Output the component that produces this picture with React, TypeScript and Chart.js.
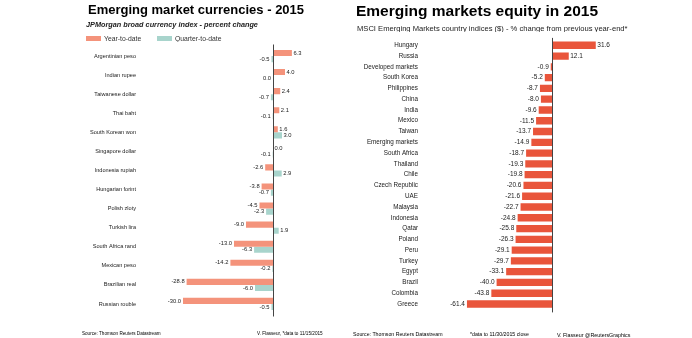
import React, { useEffect, useRef } from "react";
import { Chart, registerables } from "chart.js";

Chart.register(...registerables);

// ---------- Data ----------
const currencyCategories = [
  "Argentinian peso",
  "Indian rupee",
  "Taiwanese dollar",
  "Thai baht",
  "South Korean won",
  "Singapore dollar",
  "Indonesia rupiah",
  "Hungarian forint",
  "Polish zloty",
  "Turkish lira",
  "South Africa rand",
  "Mexican peso",
  "Brazilian real",
  "Russian rouble",
];
const yearToDate = [6.3, 4.0, 2.4, 2.1, 1.6, 0.0, -2.6, -3.8, -4.5, -9.0, -13.0, -14.2, -28.8, -30.0];
const quarterToDate = [-0.5, 0.0, -0.7, -0.1, 3.0, -0.1, 2.9, -0.7, -2.3, 1.9, -6.3, -0.2, -6.0, -0.5];

const equityCategories = [
  "Hungary",
  "Russia",
  "Developed markets",
  "South Korea",
  "Philippines",
  "China",
  "India",
  "Mexico",
  "Taiwan",
  "Emerging markets",
  "South Africa",
  "Thailand",
  "Chile",
  "Czech Republic",
  "UAE",
  "Malaysia",
  "Indonesia",
  "Qatar",
  "Poland",
  "Peru",
  "Turkey",
  "Egypt",
  "Brazil",
  "Colombia",
  "Greece",
];
const equityChange = [
  31.6, 12.1, -0.9, -5.2, -8.7, -8.0, -9.6, -11.5, -13.7, -14.9, -18.7, -19.3, -19.8, -20.6, -21.6,
  -22.7, -24.8, -25.8, -26.3, -29.1, -29.7, -33.1, -40.0, -43.8, -61.4,
];

const FONT = 'Arial, "Liberation Sans", sans-serif';

function makeLabelPlugin(fontSize: number, zeroLeftDatasets: number[]) {
  return {
    id: "valueLabels",
    afterDatasetsDraw(chart: any) {
      const ctx = chart.ctx;
      ctx.save();
      ctx.font = `${fontSize}px ${FONT}`;
      ctx.fillStyle = "#222";
      ctx.textBaseline = "middle";
      chart.data.datasets.forEach((ds: any, di: number) => {
        const meta = chart.getDatasetMeta(di);
        meta.data.forEach((el: any, i: number) => {
          const v = ds.data[i] as number;
          const left = v < 0 || (v === 0 && zeroLeftDatasets.includes(di));
          const { x, y } = el.getProps(["x", "y"], true);
          ctx.textAlign = left ? "right" : "left";
          ctx.fillText(v.toFixed(1), left ? x - 2 : x + 1.5, y);
        });
      });
      const xs = chart.scales.x;
      const zx = Math.round(xs.getPixelForValue(0)) + 0.5;
      ctx.strokeStyle = "#444";
      ctx.lineWidth = 1;
      ctx.beginPath();
      ctx.moveTo(zx, chart.chartArea.top - 2);
      ctx.lineTo(zx, chart.chartArea.bottom + 3);
      ctx.stroke();
      ctx.restore();
    },
  };
}

function T(props: {
  x: number;
  y: number;
  size: number;
  text: string;
  weight?: number;
  italic?: boolean;
  color?: string;
}) {
  const { x, y, size, text, weight = 400, italic = false, color = "#111" } = props;
  const k = 2;
  return (
    <div
      style={{
        position: "absolute",
        left: x,
        top: y - 0.49 * size,
        fontFamily: FONT,
        fontSize: size * k,
        lineHeight: 1,
        fontWeight: weight,
        fontStyle: italic ? "italic" : "normal",
        color,
        whiteSpace: "nowrap",
        transform: `scale(${1 / k})`,
        transformOrigin: "0 0",
      }}
    >
      {text}
    </div>
  );
}

function CurrencyChart() {
  const ref = useRef<HTMLCanvasElement>(null);
  useEffect(() => {
    if (!ref.current) return;
    const chart = new Chart(ref.current, {
      type: "bar",
      data: {
        labels: currencyCategories,
        datasets: [
          {
            label: "Year-to-date",
            data: yearToDate,
            backgroundColor: "#f4937b",
            borderWidth: 0,
            categoryPercentage: 0.64,
            barPercentage: 1,
          },
          {
            label: "Quarter-to-date",
            data: quarterToDate,
            backgroundColor: "#a8d4cc",
            borderWidth: 0,
            categoryPercentage: 0.64,
            barPercentage: 1,
          },
        ],
      },
      options: {
        indexAxis: "y",
        responsive: false,
        animation: false,
        devicePixelRatio: 1,
        layout: { padding: { top: 46.5, bottom: 24.5, left: 0, right: 10 } },
        plugins: { legend: { display: false }, tooltip: { enabled: false }, title: { display: false } },
        scales: {
          x: { display: false, min: -44.3333, max: 19 },
          y: {
            grid: { display: false, drawTicks: false },
            border: { display: false },
            ticks: {
              autoSkip: false,
              padding: 4,
              color: "#222",
              font: { family: FONT, size: 5.6 },
            },
            afterFit: (scale: any) => {
              scale.width = 140;
            },
          },
        },
      } as any,
      plugins: [makeLabelPlugin(5.8, [1])],
    });
    return () => chart.destroy();
  }, []);
  return (
    <canvas
      ref={ref}
      width={340}
      height={338}
      style={{ position: "absolute", left: 0, top: 0, width: 340, height: 338 }}
    />
  );
}

function EquityChart() {
  const ref = useRef<HTMLCanvasElement>(null);
  useEffect(() => {
    if (!ref.current) return;
    const chart = new Chart(ref.current, {
      type: "bar",
      data: {
        labels: equityCategories,
        datasets: [
          {
            label: "% change",
            data: equityChange,
            backgroundColor: "#e9553b",
            borderWidth: 0,
            categoryPercentage: 1,
            barPercentage: 0.68,
          },
        ],
      },
      options: {
        indexAxis: "y",
        responsive: false,
        animation: false,
        devicePixelRatio: 1,
        layout: { padding: { top: 39.9, bottom: 28.6, left: 0, right: 10 } },
        plugins: { legend: { display: false }, tooltip: { enabled: false }, title: { display: false } },
        scales: {
          x: { display: false, min: -93.86, max: 93.86 },
          y: {
            grid: { display: false, drawTicks: false },
            border: { display: false },
            ticks: {
              autoSkip: false,
              padding: 4,
              color: "#1a1a1a",
              font: { family: FONT, size: 6.3 },
            },
            afterFit: (scale: any) => {
              scale.width = 82;
            },
          },
        },
      } as any,
      plugins: [makeLabelPlugin(6.5, [])],
    });
    return () => chart.destroy();
  }, []);
  return (
    <canvas
      ref={ref}
      width={352}
      height={338}
      style={{ position: "absolute", left: 340, top: 0, width: 352, height: 338 }}
    />
  );
}

export default function App() {
  return (
    <div
      style={{
        position: "absolute",
        left: 0,
        top: 0,
        width: 692,
        height: 338,
        background: "#fff",
        overflow: "hidden",
      }}
    >
      <CurrencyChart />
      <EquityChart />

      {/* Left panel text */}
      <T x={88} y={9.5} size={13} weight={700} text="Emerging market currencies - 2015" color="#000" />
      <T x={86} y={24.8} size={7.3} weight={700} italic text="JPMorgan broad currency index - percent change" color="#222" />
      <div style={{ position: "absolute", left: 86, top: 36, width: 14.7, height: 5.3, background: "#f4937b" }} />
      <T x={104} y={38.6} size={6.8} text="Year-to-date" color="#333" />
      <div style={{ position: "absolute", left: 157.3, top: 36, width: 14.4, height: 5.3, background: "#a8d4cc" }} />
      <T x={175} y={38.6} size={6.8} text="Quarter-to-date" color="#333" />
      <T x={81.7} y={333.3} size={4.6} text="Source: Thomson Reuters Datastream" color="#000" />
      <T x={256.7} y={333.3} size={4.65} text="V. Flasseur, *data to 11/15/2015" color="#000" />

      {/* Right panel text */}
      <T x={356} y={10.3} size={15.5} weight={700} text="Emerging markets equity in 2015" color="#000" />
      <T x={357} y={27.8} size={7.6} text="MSCI Emerging Markets country indices ($) - % change from previous year-end*" color="#222" />
      <T x={353} y={334.3} size={5.24} text="Source: Thomson Reuters Datastream" color="#000" />
      <T x={470} y={334.3} size={5.23} text="*data to 11/30/2015 close" color="#000" />
      <T x={556.7} y={334.3} size={5.34} text="V. Flasseur @ReutersGraphics" color="#000" />
    </div>
  );
}
